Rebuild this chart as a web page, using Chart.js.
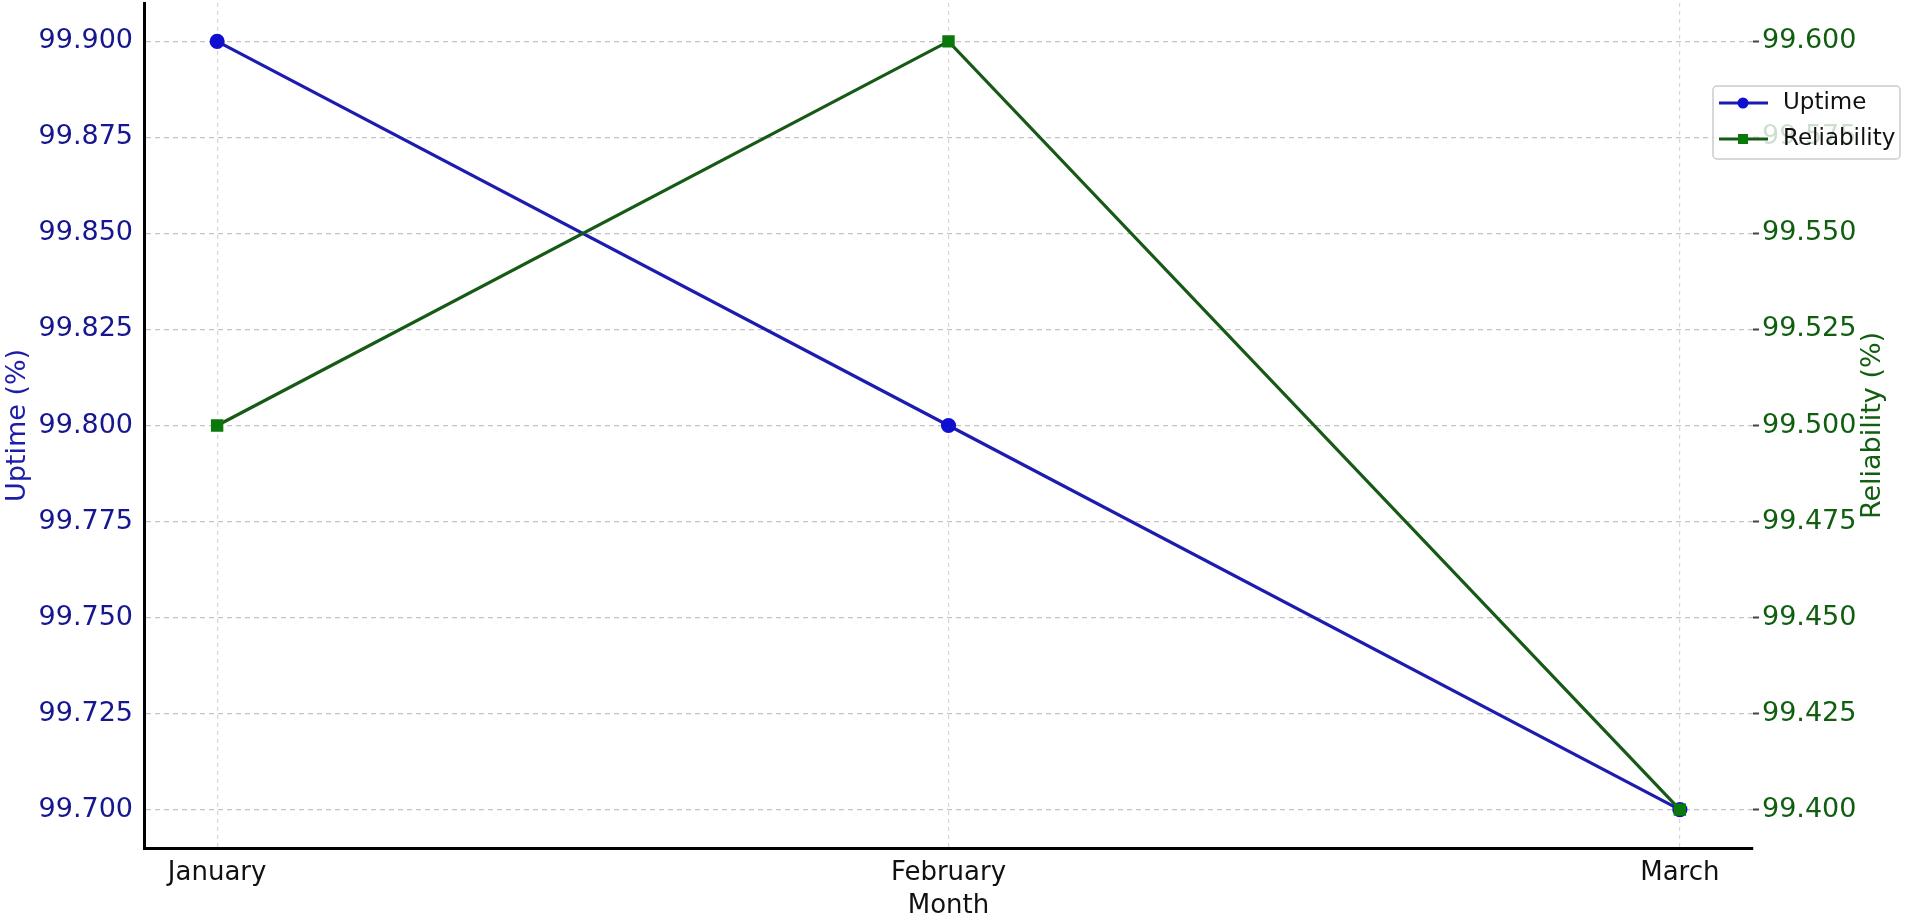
<!DOCTYPE html>
<html>
<head>
<meta charset="utf-8">
<script src="https://cdn.jsdelivr.net/npm/chart.js@4.4.1/dist/chart.umd.min.js"></script>
<style>
    body { margin: 0; background: #ffffff; }
    #wrap { width: 1908px; height: 920px; }
</style>
</head>
<body>
<div id="wrap"><canvas id="uptimeChart" width="1908" height="920"></canvas></div>
<script>
    // data
    const months = ["January", "February", "March"];
    const uptime = [99.9, 99.8, 99.7];
    const reliability = [99.5, 99.6, 99.4];
    const uptimeTicks = [99.7, 99.725, 99.75, 99.775, 99.8, 99.825, 99.85, 99.875, 99.9];
    const reliabilityTicks = [99.4, 99.425, 99.45, 99.475, 99.5, 99.525, 99.55, 99.575, 99.6];

    const FONT = "'DejaVu Sans', sans-serif";
    const blueLine = "#1c1cb0", bluePoint = "#0f0fd0", blueText = "#16168f";
    const greenLine = "#165a16", greenPoint = "#0a780a", greenText = "#115e11";

    // no extra room for edge labels, the axes are pinned by hand
    function noPad(scale) {
        scale.paddingTop = 0;
        scale.paddingBottom = 0;
        scale.paddingLeft = 0;
        scale.paddingRight = 0;
    }

    // legend + right axis title drawn by hand (matplotlib style)
    const extras = {
        id: "extras",
        afterDraw(chart) {
            const ctx = chart.ctx;
            ctx.save();

            // right axis title, reading upwards
            const area = chart.chartArea;
            ctx.translate(1873, (area.top + area.bottom) / 2);
            ctx.rotate(-Math.PI / 2);
            ctx.font = "27px " + FONT;
            ctx.fillStyle = greenText;
            ctx.textAlign = "center";
            ctx.textBaseline = "middle";
            ctx.fillText("Reliability (%)", 0, 0);
            ctx.restore();

            // legend box
            ctx.save();
            const bx = 1713, by = 86, bw = 187, bh = 73;
            ctx.fillStyle = "rgba(255,255,255,0.8)";
            ctx.strokeStyle = "#cccccc";
            ctx.lineWidth = 1.5;
            ctx.beginPath();
            ctx.roundRect(bx, by, bw, bh, 4);
            ctx.fill();
            ctx.stroke();

            const rows = [103, 139];
            chart.data.datasets.forEach((ds, i) => {
                const y = rows[i];
                ctx.strokeStyle = ds.borderColor;
                ctx.lineWidth = 3;
                ctx.beginPath();
                ctx.moveTo(1719, y);
                ctx.lineTo(1768, y);
                ctx.stroke();
                ctx.fillStyle = ds.pointBackgroundColor;
                if (ds.pointStyle === "rect") {
                    ctx.fillRect(1743 - 5, y - 5, 10, 10);
                } else {
                    ctx.beginPath();
                    ctx.arc(1743, y, 5.5, 0, Math.PI * 2);
                    ctx.fill();
                }
                ctx.fillStyle = "#111111";
                ctx.font = "23px " + FONT;
                ctx.textAlign = "left";
                ctx.textBaseline = "middle";
                ctx.fillText(ds.label, 1783, y);
            });
            ctx.restore();
        }
    };

    new Chart(document.getElementById("uptimeChart").getContext("2d"), {
        type: "line",
        data: {
            datasets: [{
                label: "Uptime",
                data: uptime.map((v, i) => ({ x: i, y: v })),
                yAxisID: "y",
                borderColor: blueLine,
                backgroundColor: bluePoint,
                pointBackgroundColor: bluePoint,
                pointBorderColor: bluePoint,
                pointStyle: "circle",
                pointRadius: 6,
                borderWidth: 3.2,
                tension: 0,
                order: 2
            }, {
                label: "Reliability",
                data: reliability.map((v, i) => ({ x: i, y: v })),
                yAxisID: "y1",
                borderColor: greenLine,
                backgroundColor: greenPoint,
                pointBackgroundColor: greenPoint,
                pointBorderColor: greenPoint,
                pointStyle: "rect",
                pointRadius: 6.5,
                borderWidth: 3.2,
                tension: 0,
                order: 1
            }]
        },
        options: {
            responsive: false,
            animation: false,
            devicePixelRatio: 1,
            layout: { autoPadding: false, padding: { top: 3, left: 0, right: 0, bottom: 0 } },
            plugins: {
                legend: { display: false },
                tooltip: { enabled: false }
            },
            scales: {
                x: {
                    type: "linear",
                    min: -0.1,
                    max: 2.1,
                    afterBuildTicks: scale => { scale.ticks = months.map((m, i) => ({ value: i })); },
                    afterFit: scale => { scale.height = 72; noPad(scale); },
                    ticks: {
                        callback: value => months[value],
                        color: "#111111",
                        font: { family: FONT, size: 26 },
                        padding: 10,
                        maxRotation: 0
                    },
                    grid: { color: "#d6d6d6", lineWidth: 1.2, drawTicks: false },
                    border: { display: true, color: "#000000", width: 3, dash: [4, 4] },
                    title: {
                        display: true,
                        text: "Month",
                        color: "#111111",
                        font: { family: FONT, size: 26, lineHeight: 0.9 },
                        padding: { top: 0, bottom: 2 }
                    }
                },
                y: {
                    position: "left",
                    min: 99.69,
                    max: 99.91,
                    afterBuildTicks: scale => { scale.ticks = uptimeTicks.map(v => ({ value: v })); },
                    afterFit: scale => { scale.width = 144; noPad(scale); },
                    ticks: {
                        callback: value => value.toFixed(3),
                        color: blueText,
                        font: { family: FONT, size: 27 },
                        padding: 11
                    },
                    grid: { color: "#c4c4c4", lineWidth: 1.2, drawTicks: false },
                    border: { display: true, color: "#000000", width: 3, dash: [5, 4] },
                    title: {
                        display: true,
                        text: "Uptime (%)",
                        color: "#1d1daa",
                        font: { family: FONT, size: 27, lineHeight: 1 },
                        padding: { top: 4, bottom: 0 }
                    }
                },
                y1: {
                    position: "right",
                    min: 99.39,
                    max: 99.61,
                    afterBuildTicks: scale => { scale.ticks = reliabilityTicks.map(v => ({ value: v })); },
                    afterFit: scale => { scale.width = 155; noPad(scale); },
                    ticks: {
                        callback: value => value.toFixed(3),
                        color: greenText,
                        font: { family: FONT, size: 27 },
                        padding: 3
                    },
                    grid: {
                        drawOnChartArea: false,
                        drawTicks: true,
                        tickLength: 6,
                        tickColor: "#444444",
                        tickWidth: 2
                    },
                    border: { display: false },
                    title: { display: false }
                }
            }
        },
        plugins: [extras]
    });
</script>
</body>
</html>
